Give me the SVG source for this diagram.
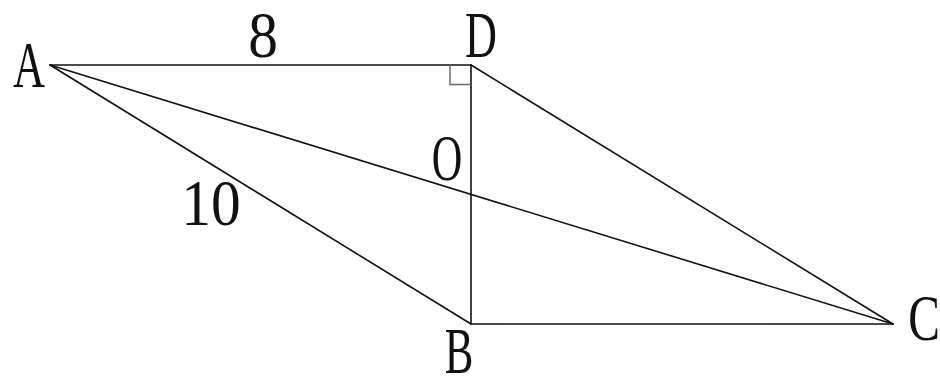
<svg xmlns="http://www.w3.org/2000/svg" width="940" height="376" viewBox="0 0 940 376">
<style>
.l{stroke:#111;stroke-width:1.6;fill:none;stroke-linecap:round}
.m{stroke:#666;stroke-width:1.4;fill:none}
.t{font-family:"Liberation Serif","DejaVu Serif",serif;font-size:66px;fill:#111;text-anchor:middle}
</style>
<rect width="940" height="376" fill="#fff"/>
<g id="connectors">
<line class="l" x1="50" y1="65" x2="471" y2="65"/>
<line class="l" x1="50" y1="65" x2="471" y2="324"/>
<line class="l" x1="50" y1="65" x2="893" y2="324"/>
<line class="l" x1="471" y1="65" x2="471" y2="324"/>
<line class="l" x1="471" y1="65" x2="893" y2="324"/>
<line class="l" x1="471" y1="324" x2="893" y2="324"/>
<polyline class="m" points="450,65 450,84.5 471,84.5"/>
</g>
<g id="A"><text class="t" transform="translate(29,87) scale(0.67,1)">A</text></g>
<g id="D"><text class="t" transform="translate(481,57) scale(0.67,1)">D</text></g>
<g id="O"><text class="t" transform="translate(447,180) scale(0.64,1)">O</text></g>
<g id="B"><text class="t" transform="translate(459,373) scale(0.65,1)">B</text></g>
<g id="C"><text class="t" transform="translate(924,340) scale(0.72,1)">C</text></g>
<g id="label8"><text class="t" transform="translate(263,57) scale(0.9,1)">8</text></g>
<g id="label10"><text class="t" transform="translate(211,225) scale(0.9,1)">10</text></g>
</svg>
